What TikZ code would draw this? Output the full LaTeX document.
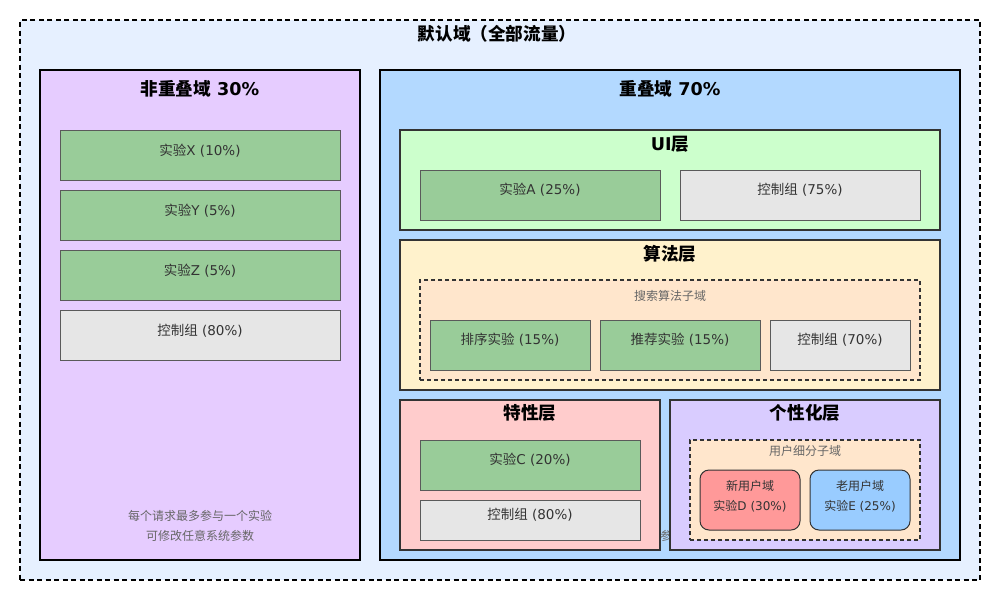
\documentclass[tikz,border=0pt]{standalone}
\usepackage{fontspec}
\setmainfont{DejaVu Sans}
\newfontfamily\cjk{Noto Sans CJK SC}
\newcommand\zh[1]{{\cjk #1}}

\definecolor{outerfill}{RGB}{230,240,255}
\definecolor{leftfill}{RGB}{230,204,255}
\definecolor{rightfill}{RGB}{179,217,255}
\definecolor{uifill}{RGB}{204,255,204}
\definecolor{algfill}{RGB}{255,242,204}
\definecolor{subfill}{RGB}{255,230,204}
\definecolor{featfill}{RGB}{255,204,204}
\definecolor{persfill}{RGB}{217,204,255}
\definecolor{expfill}{RGB}{153,204,153}
\definecolor{ctlfill}{RGB}{230,230,230}
\definecolor{newfill}{RGB}{255,153,153}
\definecolor{oldfill}{RGB}{153,204,255}
\definecolor{edge}{RGB}{90,90,90}
\definecolor{dark}{RGB}{51,51,51}
\definecolor{note}{RGB}{102,102,102}

\tikzset{
  region/.style={draw, inner sep=0pt, outer sep=0pt, anchor=north west},
  panel/.style={region, draw=black, line width=1.5pt},
  layerbox/.style={region, draw=dark, line width=1.3pt},
  subdomain/.style={region, draw=dark, line width=1.2pt, dash pattern=on 4pt off 3pt},
  expbox/.style={region, draw=edge, line width=1pt, fill=expfill},
  ctlbox/.style={region, draw=edge, line width=1pt, fill=ctlfill},
  segbox/.style={region, draw=dark, line width=1pt, rounded corners=9pt},
  titletext/.style={font=\fontsize{17.6}{20}\selectfont\bfseries, text=black, inner sep=0pt},
  boxtext/.style={font=\fontsize{13.5}{16}\selectfont, text=dark, inner sep=0pt},
  smalltext/.style={font=\fontsize{12}{14}\selectfont, text=dark, inner sep=0pt},
  notetext/.style={font=\fontsize{12}{14}\selectfont, text=note, inner sep=0pt},
}

% rectangle from (x1,y1) to (x2,y2), y measured downwards
\newcommand\regionbox[6]{%
  \pgfmathsetmacro\bw{#4-#2}\pgfmathsetmacro\bh{#5-#3}%
  \node[#6, minimum width=\bw pt, minimum height=\bh pt] (#1) at (#2,#3) {};}

\begin{document}
\begin{tikzpicture}[x=1pt, y=-1pt]
\useasboundingbox (0,0) rectangle (1000,600);

% default domain (all traffic)
\regionbox{all}{20}{20}{980}{580}{region, fill=outerfill, draw=black, line width=1.6pt, dash pattern=on 5pt off 3.5pt}
\node[titletext] (allT) at (497,34) {\zh{默认域（全部流量）}};

% non-overlapping domain
\regionbox{nonov}{40}{70}{360}{560}{panel, fill=leftfill}
\node[titletext] (nonovT) at (200,89) {\zh{非重叠域} 30\%};
\regionbox{expX}{60}{130}{340}{180}{expbox}
\node[boxtext] (expXT) at (200,151) {\zh{实验}X (10\%)};
\regionbox{expY}{60}{190}{340}{240}{expbox}
\node[boxtext] (expYT) at (200,211) {\zh{实验}Y (5\%)};
\regionbox{expZ}{60}{250}{340}{300}{expbox}
\node[boxtext] (expZT) at (200,271) {\zh{实验}Z (5\%)};
\regionbox{ctlL}{60}{310}{340}{360}{ctlbox}
\node[boxtext] (ctlLT) at (200,331) {\zh{控制组} (80\%)};
\node[notetext] (noteA) at (200,516) {\zh{每个请求最多参与一个实验}};
\node[notetext] (noteB) at (200,536) {\zh{可修改任意系统参数}};

% overlapping domain
\regionbox{ov}{380}{70}{960}{560}{panel, fill=rightfill}
\node[titletext] (ovT) at (670,89) {\zh{重叠域} 70\%};
\node[notetext] (ovNote) at (672,536) {\zh{层内参数独立}};

% UI layer
\regionbox{ui}{400}{130}{940}{230}{layerbox, fill=uifill}
\node[titletext] (uiT) at (670,144) {UI\zh{层}};
\regionbox{expA}{420}{170}{660}{220}{expbox}
\node[boxtext] (expAT) at (540,190) {\zh{实验}A (25\%)};
\regionbox{ctlUI}{680}{170}{920}{220}{ctlbox}
\node[boxtext] (ctlUIT) at (800,190) {\zh{控制组} (75\%)};

% algorithm layer
\regionbox{alg}{400}{240}{940}{390}{layerbox, fill=algfill}
\node[titletext] (algT) at (670,254) {\zh{算法层}};
\regionbox{search}{420}{280}{920}{380}{subdomain, fill=subfill}
\node[notetext] (searchT) at (670,296) {\zh{搜索算法子域}};
\regionbox{rank}{430}{320}{590}{370}{expbox}
\node[boxtext] (rankT) at (510,340) {\zh{排序实验} (15\%)};
\regionbox{rec}{600}{320}{760}{370}{expbox}
\node[boxtext] (recT) at (680,340) {\zh{推荐实验} (15\%)};
\regionbox{ctlAlg}{770}{320}{910}{370}{ctlbox}
\node[boxtext] (ctlAlgT) at (840,340) {\zh{控制组} (70\%)};

% feature layer
\regionbox{feat}{400}{400}{660}{550}{layerbox, fill=featfill}
\node[titletext] (featT) at (530,413) {\zh{特性层}};
\regionbox{expC}{420}{440}{640}{490}{expbox}
\node[boxtext] (expCT) at (530,460) {\zh{实验}C (20\%)};
\regionbox{ctlFeat}{420}{500}{640}{540}{ctlbox}
\node[boxtext] (ctlFeatT) at (530,515) {\zh{控制组} (80\%)};

% personalization layer
\regionbox{pers}{670}{400}{940}{550}{layerbox, fill=persfill}
\node[titletext] (persT) at (805,413) {\zh{个性化层}};
\regionbox{users}{690}{440}{920}{540}{subdomain, fill=subfill}
\node[notetext] (usersT) at (805,451) {\zh{用户细分子域}};
\regionbox{newU}{700}{470}{800}{530}{segbox, fill=newfill}
\node[smalltext] (newUA) at (750,486) {\zh{新用户域}};
\node[smalltext] (newUB) at (750,506) {\zh{实验}D (30\%)};
\regionbox{oldU}{810}{470}{910}{530}{segbox, fill=oldfill}
\node[smalltext] (oldUA) at (860,486) {\zh{老用户域}};
\node[smalltext] (oldUB) at (860,506) {\zh{实验}E (25\%)};
\end{tikzpicture}
\end{document}
